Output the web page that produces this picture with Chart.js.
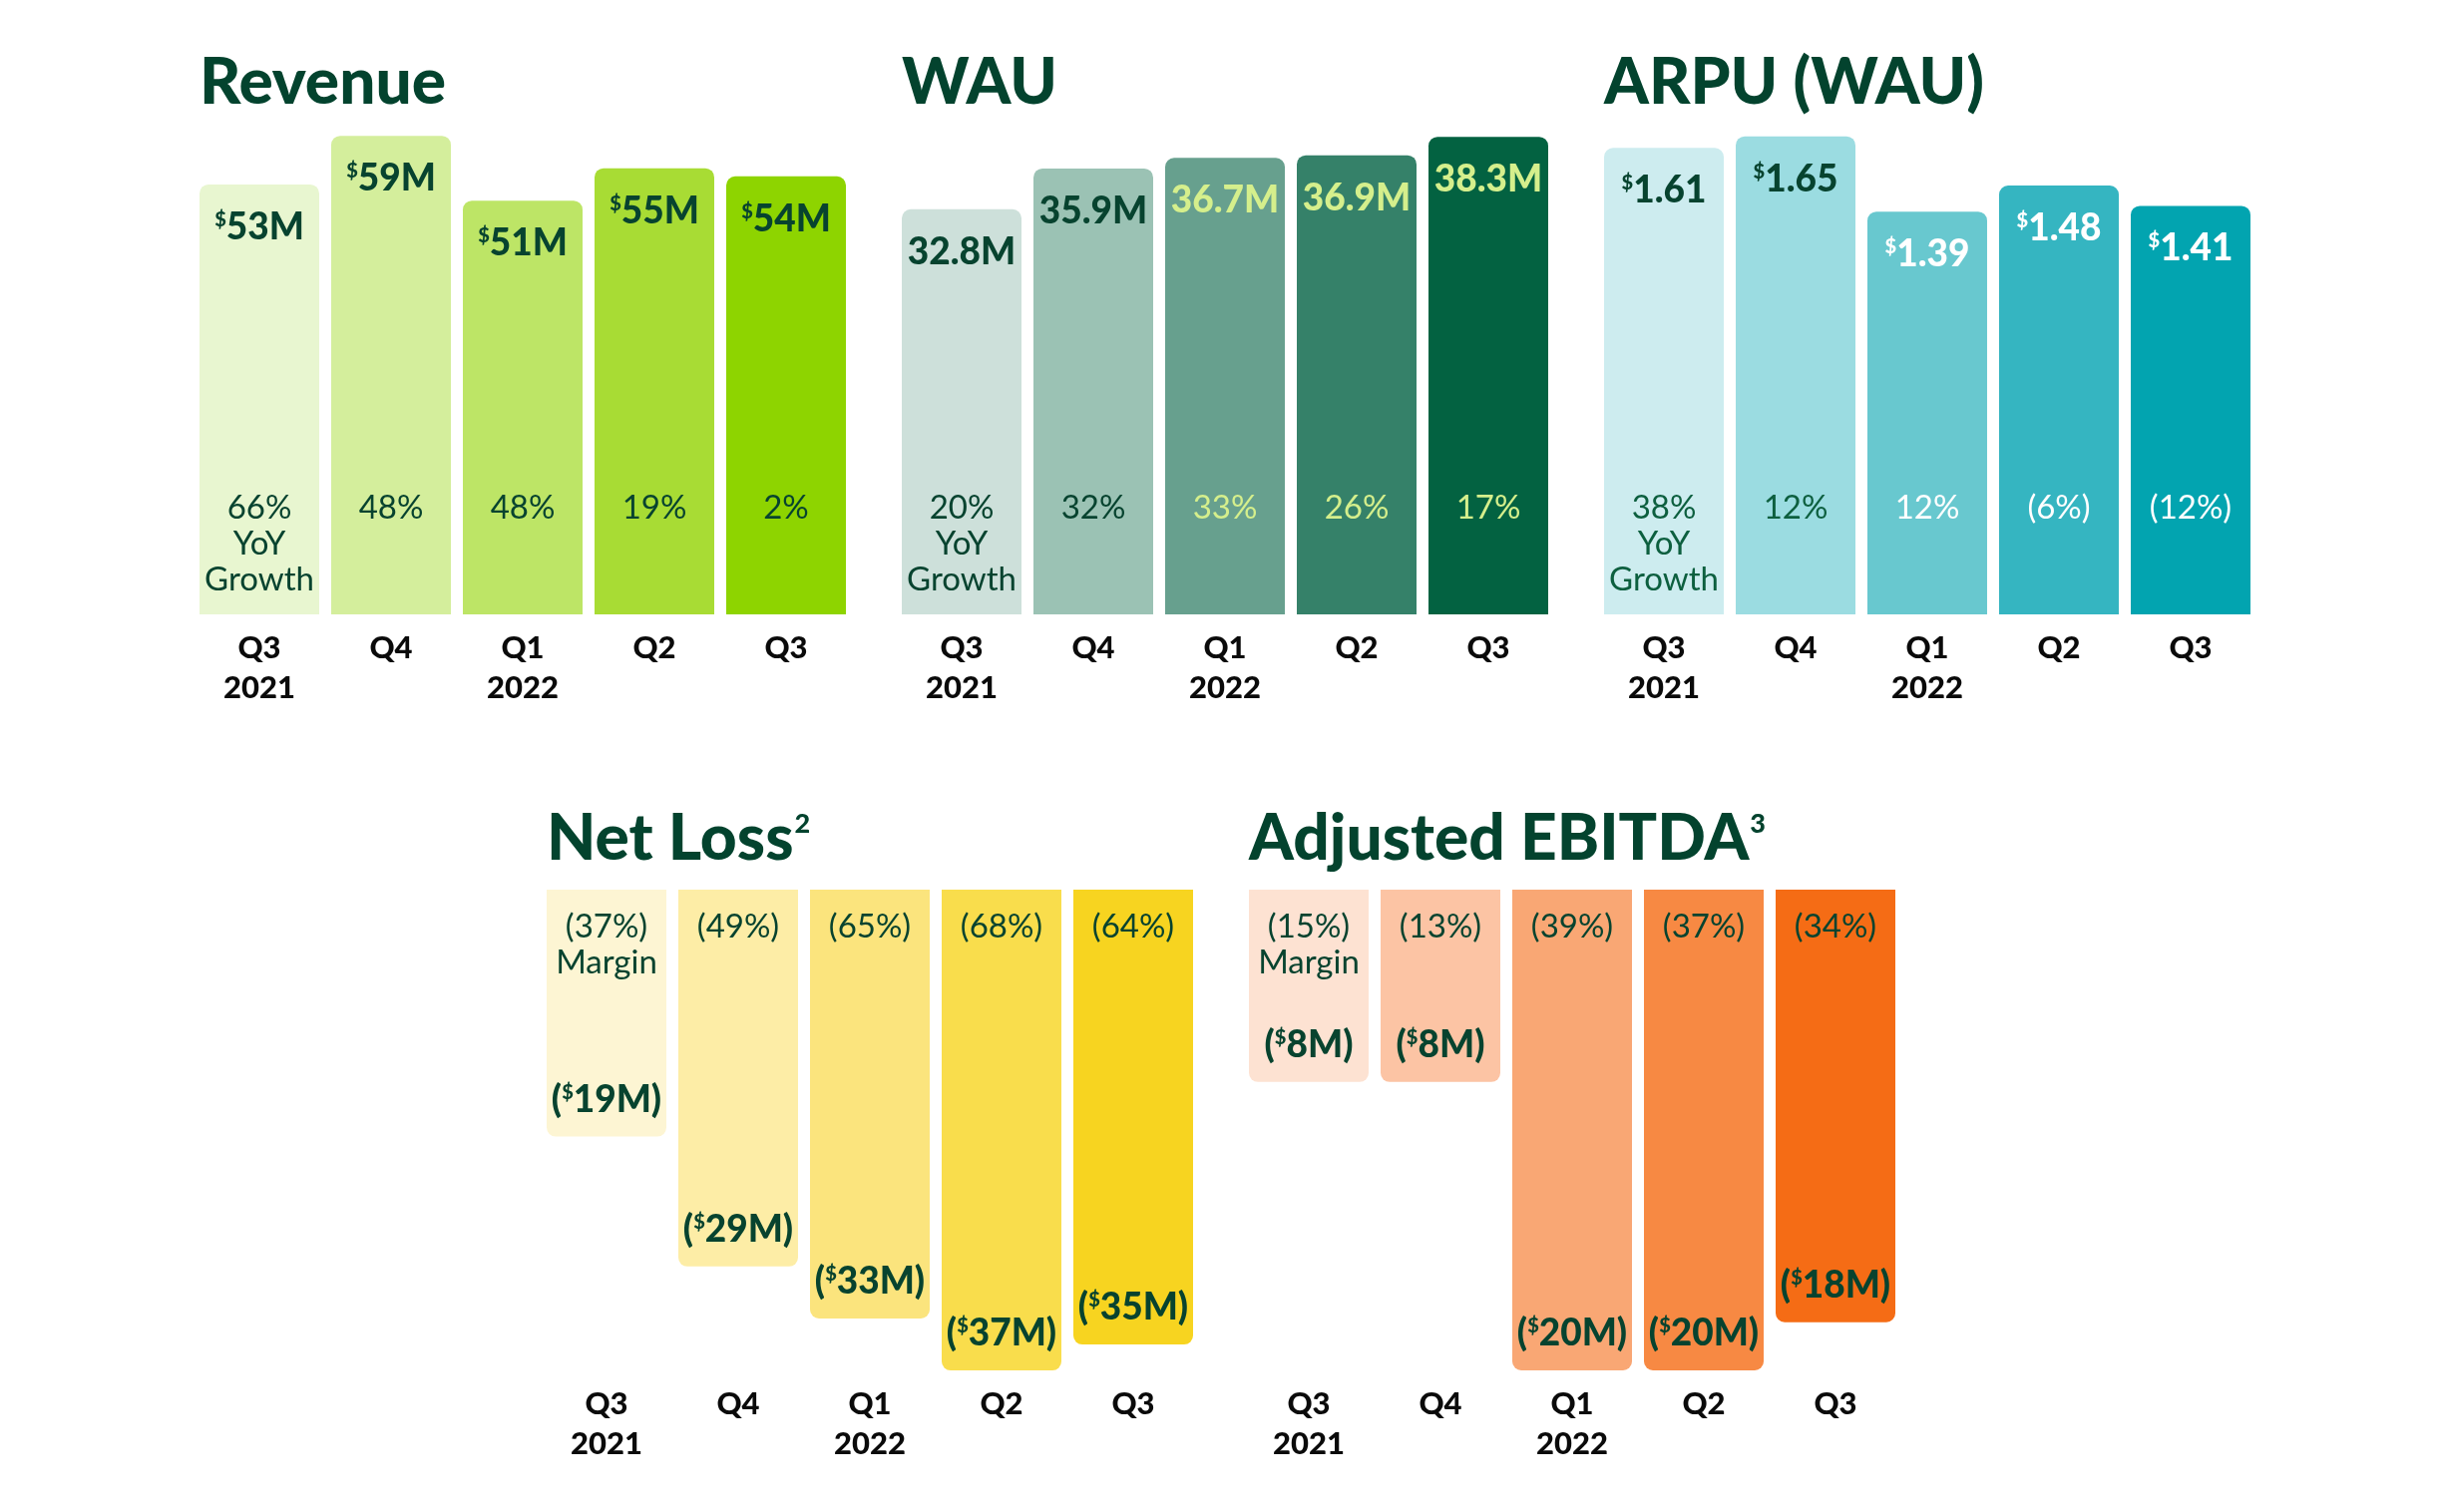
<!DOCTYPE html>
<html>
<head>
<meta charset="utf-8">
<script src="https://cdn.jsdelivr.net/npm/chart.js@4.4.1/dist/chart.umd.min.js"></script>
<style>
  html, body { margin: 0; padding: 0; background: #fff; }
  body { width: 2448px; height: 1516px; position: relative; overflow: hidden; }
  canvas { position: absolute; }
</style>
</head>
<body>
<canvas id="revenue" width="680" height="720" style="left:184px;top:0px"></canvas>
<canvas id="wau" width="680" height="720" style="left:888px;top:0px"></canvas>
<canvas id="arpu" width="680" height="720" style="left:1592px;top:0px"></canvas>
<canvas id="netLoss" width="680" height="722" style="left:532px;top:760px"></canvas>
<canvas id="ebitda" width="680" height="722" style="left:1236px;top:760px"></canvas>
<script>
const quarters = [["Q3", "2021"], "Q4", ["Q1", "2022"], "Q2", "Q3"];

const revenue = [53, 59, 51, 55, 54];
const revenueYoY = ["66%", "48%", "48%", "19%", "2%"];

const wau = [32.8, 35.9, 36.7, 36.9, 38.3];
const wauYoY = ["20%", "32%", "33%", "26%", "17%"];

const arpu = [1.61, 1.65, 1.39, 1.48, 1.41];
const arpuYoY = ["38%", "12%", "12%", "(6%)", "(12%)"];

const netLoss = [-19, -29, -33, -37, -35];
const netLossMargin = ["(37%)", "(49%)", "(65%)", "(68%)", "(64%)"];

const ebitda = [-8, -8, -20, -20, -18];
const ebitdaMargin = ["(15%)", "(13%)", "(39%)", "(37%)", "(34%)"];

Chart.defaults.font.family = "Lato, 'Open Sans', sans-serif";

const DARK = "#07432f";
const LIME = "#d5ef8c";

// draws the "$53M" / "($19M)" label, $ as a small raised sign
function drawValue(ctx, cx, y, text, dollar, neg, color) {
  const big = "900 37px Lato", small = "900 20px Lato";
  const parts = [];
  if (neg) parts.push([big, "(", 0]);
  if (dollar) parts.push([small, "$", -13]);
  parts.push([big, text + (neg ? ")" : ""), 0]);
  let w = 0;
  parts.forEach(p => { ctx.font = p[0]; p.push(ctx.measureText(p[1]).width); w += p[3]; });
  let x = cx - w / 2;
  ctx.fillStyle = color;
  ctx.textAlign = "left";
  ctx.textBaseline = "alphabetic";
  parts.forEach(p => { ctx.font = p[0]; ctx.fillText(p[1], x, y + p[2]); x += p[3]; });
}

function labelsPlugin(cfg) {
  return {
    id: "labels_" + cfg.title,
    afterDatasetsDraw(chart) {
      const ctx = chart.ctx, area = chart.chartArea;
      const bars = chart.getDatasetMeta(0).data;
      const values = chart.data.datasets[0].data;
      ctx.save();

      // panel title
      ctx.fillStyle = "#03432e";
      ctx.textAlign = "left";
      ctx.textBaseline = "alphabetic";
      ctx.font = "900 64px Lato";
      const tx = area.left + 6;
      ctx.fillText(cfg.title, tx, cfg.titleY);
      if (cfg.sup) {
        const tw = ctx.measureText(cfg.title).width;
        ctx.font = "900 27px Lato";
        ctx.fillText(cfg.sup, tx + tw + 1, cfg.titleY - 27);
      }

      bars.forEach((bar, i) => {
        const v = values[i];
        const neg = v < 0;
        const txt = cfg.fmt(Math.abs(v));
        const y = neg ? bar.y - 25 : bar.y + 55;
        drawValue(ctx, bar.x, y, txt, cfg.dollar, neg, cfg.valueColors[i]);

        const lines = [cfg.pcts[i]].concat(i === 0 ? cfg.firstExtra : []);
        ctx.font = "33px Lato";
        ctx.textAlign = "center";
        ctx.fillStyle = cfg.pctColors[i];
        const y0 = neg ? area.top + 48 : area.bottom - 96;
        lines.forEach((l, k) => ctx.fillText(l, bar.x, y0 + k * 36));
      });
      ctx.restore();
    }
  };
}

function makeChart(id, data, colors, yMin, yMax, cfg) {
  return new Chart(document.getElementById(id), {
    type: "bar",
    data: {
      labels: quarters,
      datasets: [{
        data: data,
        backgroundColor: colors,
        borderRadius: 9,
        borderSkipped: "start",
        categoryPercentage: 1,
        barPercentage: 0.909
      }]
    },
    options: {
      responsive: false,
      animation: false,
      devicePixelRatio: 1,
      layout: { padding: { left: 10, right: 10, top: cfg.padTop, bottom: 0 } },
      plugins: { legend: { display: false }, tooltip: { enabled: false } },
      scales: {
        x: {
          grid: { display: false, drawTicks: false },
          border: { display: false },
          ticks: {
            color: "#0a0a0a",
            padding: cfg.tickPad,
            maxRotation: 0,
            autoSkip: false,
            font: { size: 31, weight: "900", lineHeight: 1.3 }
          },
          afterFit: s => { s.height = 104; }
        },
        y: { display: false, min: yMin, max: yMax }
      }
    },
    plugins: [labelsPlugin(cfg)]
  });
}

makeChart("revenue", revenue,
  ["#e8f6d0", "#d4ee9c", "#bde566", "#a8dc34", "#8ed400"], 0, 60, {
    title: "Revenue", titleY: 104, padTop: 128, tickPad: 14, dollar: true,
    fmt: v => v + "M", pcts: revenueYoY, firstExtra: ["YoY", "Growth"],
    valueColors: [DARK, DARK, DARK, DARK, DARK],
    pctColors: [DARK, DARK, DARK, DARK, DARK]
  });

makeChart("wau", wau,
  ["#cde0da", "#9bc2b4", "#67a08e", "#358169", "#036241"], 2, 39, {
    title: "WAU", titleY: 104, padTop: 128, tickPad: 14, dollar: false,
    fmt: v => v.toFixed(1) + "M", pcts: wauYoY, firstExtra: ["YoY", "Growth"],
    valueColors: [DARK, DARK, LIME, LIME, LIME],
    pctColors: [DARK, DARK, LIME, LIME, LIME]
  });

makeChart("arpu", arpu,
  ["#cdecef", "#9bdce1", "#68c8cf", "#35b5c1", "#02a4b0"], 0, 1.68, {
    title: "ARPU (WAU)", titleY: 104, padTop: 128, tickPad: 14, dollar: true,
    fmt: v => v.toFixed(2), pcts: arpuYoY, firstExtra: ["YoY", "Growth"],
    valueColors: [DARK, DARK, "#ffffff", "#ffffff", "#ffffff"],
    pctColors: ["#0d5f3f", "#0d5f3f", "#ffffff", "#ffffff", "#ffffff"]
  });

makeChart("netLoss", netLoss,
  ["#fdf5d3", "#fdeda6", "#fbe47d", "#f9dd4c", "#f7d420"], -37.3, 0, {
    title: "Net Loss", sup: "2", titleY: 102, padTop: 132, tickPad: 10, dollar: true,
    fmt: v => v + "M", pcts: netLossMargin, firstExtra: ["Margin"],
    valueColors: [DARK, DARK, DARK, DARK, DARK],
    pctColors: [DARK, DARK, DARK, DARK, DARK]
  });

makeChart("ebitda", ebitda,
  ["#fde2d2", "#fcc4a4", "#f9a774", "#f78943", "#f56c15"], -20.17, 0, {
    title: "Adjusted EBITDA", sup: "3", titleY: 102, padTop: 132, tickPad: 10, dollar: true,
    fmt: v => v + "M", pcts: ebitdaMargin, firstExtra: ["Margin"],
    valueColors: [DARK, DARK, DARK, DARK, DARK],
    pctColors: [DARK, DARK, DARK, DARK, DARK]
  });
</script>
</body>
</html>
